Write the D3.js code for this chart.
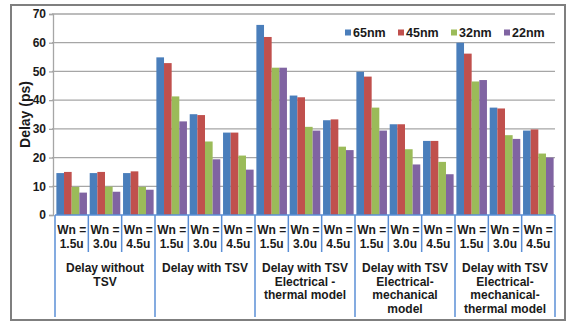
<!DOCTYPE html>
<html>
<head>
<meta charset="utf-8">
<script src="https://cdn.jsdelivr.net/npm/d3@7"></script>
<style>
  html, body { margin: 0; padding: 0; background: #fff; }
  svg { display: block; font-family: "Liberation Sans", Arial, sans-serif; }
</style>
</head>
<body>
<svg id="chart" width="567" height="322"></svg>
<script>
// Sub-category (transistor width) labels, one per bar cluster
const widths = ["1.5u", "3.0u", "4.5u"];
// Delay model groups, each spanning three width clusters
const groups = [
  ["Delay without", "TSV"],
  ["Delay with TSV"],
  ["Delay with TSV", "Electrical -", "thermal model"],
  ["Delay with TSV", "Electrical-", "mechanical", "model"],
  ["Delay with TSV", "Electrical-", "mechanical-", "thermal model"]
];
const seriesNames = ["65nm", "45nm", "32nm", "22nm"];
// Delay in ps per cluster (5 groups x 3 widths)
const d65 = [14.6, 14.6, 14.6, 54.9, 35.1, 28.7, 66.2, 41.6, 33.0, 49.9, 31.6, 25.8, 60.0, 37.4, 29.4];
const d45 = [15.0, 15.0, 15.2, 52.9, 34.8, 28.7, 62.0, 41.0, 33.3, 48.2, 31.6, 25.8, 56.2, 37.1, 29.8];
const d32 = [9.8, 9.9, 9.8, 41.3, 25.6, 20.7, 51.3, 30.7, 23.8, 37.4, 22.9, 18.5, 46.5, 27.8, 21.4];
const d22 = [7.8, 8.1, 8.8, 32.6, 19.4, 15.8, 51.3, 29.4, 22.6, 29.4, 17.6, 14.2, 47.0, 26.5, 20.0];
const yTicks = [0, 10, 20, 30, 40, 50, 60, 70];

const series = [d65, d45, d32, d22];
const colors = ["#4a7ebb", "#c0504d", "#9bbb59", "#8064a2"];
const sepColor = "#5b8fd6";

const svg = d3.select("#chart");
const plotL = 55, plotR = 555, plotT = 14, plotB = 215;

// outer frame
svg.append("rect")
  .attr("x", 11).attr("y", 5).attr("width", 554).attr("height", 315)
  .attr("fill", "none").attr("stroke", "#7f7f7f").attr("stroke-width", 2);

const clusters = d3.range(groups.length * widths.length);
const x = d3.scaleBand().domain(clusters).range([plotL, plotR]).paddingInner(0).paddingOuter(0);
const xs = d3.scaleBand().domain(d3.range(series.length)).range([0, x.bandwidth()]).paddingOuter(0.18).paddingInner(0);
const y = d3.scaleLinear().domain([0, 70]).range([plotB, plotT]);

// gridlines
svg.append("g").selectAll("line").data(yTicks.filter(t => t > 0)).join("line")
  .attr("x1", plotL - 3).attr("x2", plotR)
  .attr("y1", d => y(d)).attr("y2", d => y(d))
  .attr("stroke", "#a6a6a6").attr("stroke-width", 1.3);

// y axis
const yAxis = svg.append("g").attr("transform", `translate(${plotL - 2},0)`)
  .call(d3.axisLeft(y).tickValues(yTicks).tickSize(4).tickPadding(3));
yAxis.select(".domain").attr("stroke", "#a6a6a6").attr("stroke-width", 1.3);
yAxis.selectAll(".tick line").attr("stroke", "#a6a6a6").attr("stroke-width", 1.3);
yAxis.selectAll(".tick text")
  .attr("font-size", 12).attr("font-weight", "bold").attr("fill", "#1a1a1a")
  .attr("font-family", "'Liberation Sans', Arial, sans-serif");

// y title
svg.append("text")
  .attr("transform", `translate(25,${(plotT + plotB) / 2}) rotate(-90)`)
  .attr("text-anchor", "middle").attr("dominant-baseline", "central")
  .attr("font-size", 14).attr("font-weight", "bold").attr("fill", "#1a1a1a")
  .text("Delay (ps)");

// bars
series.forEach((vals, si) => {
  svg.append("g").selectAll("rect").data(vals).join("rect")
    .attr("x", (d, i) => x(i) + xs(si))
    .attr("width", xs.bandwidth())
    .attr("y", d => y(d))
    .attr("height", d => y(0) - y(d))
    .attr("fill", colors[si]);
});

// x axis line
svg.append("line")
  .attr("x1", plotL).attr("x2", plotR).attr("y1", plotB).attr("y2", plotB)
  .attr("stroke", sepColor).attr("stroke-width", 1.5);

// separators: short between width clusters, long between groups
const bounds = d3.range(clusters.length + 1);
svg.append("g").selectAll("line").data(bounds).join("line")
  .attr("x1", i => i < clusters.length ? x(i) : plotR)
  .attr("x2", i => i < clusters.length ? x(i) : plotR)
  .attr("y1", plotB)
  .attr("y2", i => i % widths.length === 0 ? 317 : 252)
  .attr("stroke", sepColor).attr("stroke-width", 1.5);

// width labels
const wl = svg.append("g").selectAll("g").data(clusters).join("g")
  .attr("transform", i => `translate(${x(i) + x.bandwidth() / 2},0)`);
wl.append("text").attr("y", 234).attr("text-anchor", "middle")
  .attr("font-size", 12).attr("font-weight", "bold").attr("fill", "#1a1a1a")
  .text("Wn =");
wl.append("text").attr("y", 248).attr("text-anchor", "middle")
  .attr("font-size", 12).attr("font-weight", "bold").attr("fill", "#1a1a1a")
  .text(i => widths[i % widths.length]);

// group labels
groups.forEach((lines, gi) => {
  const cx = x(gi * 3) + x.bandwidth() * 1.5;
  const t = svg.append("text").attr("text-anchor", "middle")
    .attr("font-size", 12).attr("font-weight", "bold").attr("fill", "#1a1a1a");
  lines.forEach((ln, li) => {
    t.append("tspan").attr("x", cx).attr("y", 272 + li * 13.6).text(ln);
  });
});

// legend
const legendX = [345, 398, 451, 504];
const lg = svg.append("g").selectAll("g").data(seriesNames).join("g")
  .attr("transform", (d, i) => `translate(${legendX[i]},33)`);
lg.append("rect").attr("x", 0).attr("y", -3.5).attr("width", 6).attr("height", 6)
  .attr("fill", (d, i) => colors[i]);
lg.append("text").attr("x", 8).attr("y", 0).attr("dominant-baseline", "central")
  .attr("font-size", 12.5).attr("font-weight", "bold").attr("fill", "#1a1a1a")
  .text(d => d);
</script>
</body>
</html>
